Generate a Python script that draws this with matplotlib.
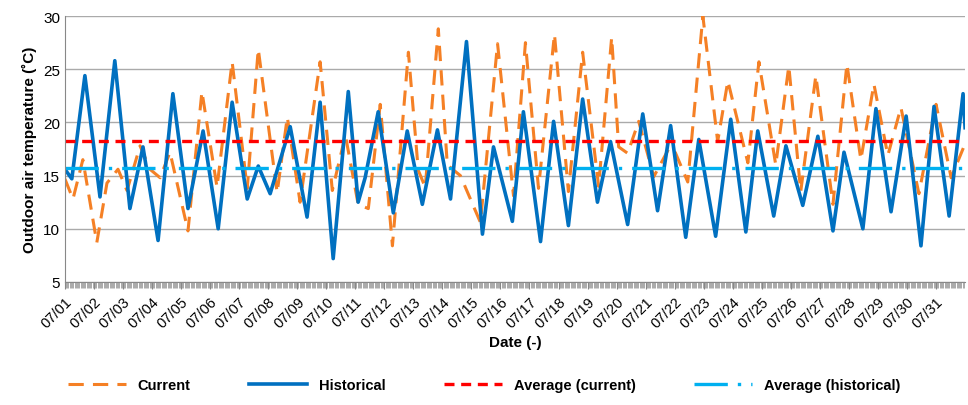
import matplotlib
matplotlib.use('Agg')
import matplotlib.pyplot as plt
import numpy as np

# time in days from 07/01 00:00, temperature in degC
hist_t = [0, 0.24, 0.69, 1.21, 1.72, 2.24, 2.69, 3.21, 3.72, 4.24, 4.76, 5.28, 5.76, 6.28, 6.66, 7.07,
          7.76, 8.34, 8.79, 9.24, 9.76, 10.10, 10.34, 10.79, 11.31, 11.79, 12.31, 12.83, 13.28, 13.83,
          14.38, 14.76, 15.41, 15.79, 16.38, 16.83, 17.34, 17.83, 18.34, 18.79, 19.38, 19.90, 20.41,
          20.86, 21.38, 21.83, 22.41, 22.93, 23.45, 23.86, 24.41, 24.83, 25.41, 25.93, 26.45, 26.83,
          27.48, 27.93, 28.45, 28.97, 29.48, 29.93, 30.45, 30.93, 31.0]
hist_v = [15.6, 14.7, 24.4, 13.0, 25.8, 11.9, 17.7, 8.9, 22.7, 11.9, 19.2, 10.0, 21.9, 12.8, 15.9, 13.3,
          19.6, 11.1, 21.9, 7.2, 22.9, 12.5, 14.8, 21.0, 11.5, 19.2, 12.3, 19.3, 12.8, 27.6,
          9.5, 17.7, 10.7, 21.0, 8.8, 20.1, 10.3, 22.2, 12.5, 18.2, 10.4, 20.8, 11.7,
          19.7, 9.2, 18.4, 9.3, 20.3, 9.7, 19.2, 11.2, 17.8, 12.2, 18.7, 9.8, 17.2,
          10.0, 21.3, 11.6, 20.6, 8.4, 21.5, 11.2, 22.7, 19.5]

cur_t = [0, 0.28, 0.62, 1.10, 1.45, 1.83, 2.14, 2.59, 2.93, 3.28, 3.62, 4.24, 4.72, 5.24, 5.76, 6.28,
         6.66, 7.31, 7.66, 8.10, 8.79, 9.21, 9.66, 10.10, 10.45, 10.86, 11.28, 11.83, 12.17, 12.41,
         12.86, 13.17, 13.62, 14.31, 14.90, 15.45, 15.86, 16.31, 16.86, 17.34, 17.83, 18.38, 18.83,
         19.07, 19.38, 19.76, 20.28, 20.79, 20.97, 21.45, 21.97, 22.48, 22.83, 23.52, 23.90, 24.48,
         24.93, 25.34, 25.86, 26.45, 26.93, 27.41, 27.86, 28.34, 28.79, 29.41, 30.00, 30.52, 30.97]
cur_v = [14.7, 12.8, 16.5, 8.7, 14.3, 15.6, 13.6, 17.8, 15.6, 14.8, 17.2, 9.8, 22.9, 13.9, 25.7, 13.8,
         26.9, 13.4, 20.5, 12.5, 25.7, 13.6, 18.8, 12.3, 11.9, 21.7, 8.4, 26.6, 15.5, 13.9,
         28.8, 16.0, 15.0, 10.6, 27.4, 13.1, 27.5, 13.8, 28.3, 13.5, 26.6, 14.0, 28.0,
         17.7, 17.1, 20.1, 14.9, 17.5, 17.5, 14.4, 30.0, 18.2, 23.9, 16.2, 25.7, 16.0,
         25.3, 13.5, 24.4, 12.3, 25.5, 16.5, 23.6, 16.9, 21.4, 13.3, 21.7, 14.8, 17.8]

avg_current = 18.3
avg_historical = 15.7
day_labels = ['07/%02d' % d for d in range(1, 32)]

plt.rcParams['font.family'] = ['Liberation Sans', 'DejaVu Sans']
fig = plt.figure(figsize=(9.68, 4.06), dpi=100)
ax = fig.add_axes([0.067, 0.303, 0.930, 0.655])

ax.plot(cur_t, cur_v, color='#F58025', lw=2.2, dashes=(5, 3), label='Current')
ax.plot(hist_t, hist_v, color='#0070C0', lw=2.6, label='Historical')
ax.axhline(avg_current, color='#FF0000', lw=2.4, dashes=(3, 2), label='Average (current)')
ax.axhline(avg_historical, color='#00B0F0', lw=2.4, dashes=(10, 3, 1, 3), label='Average (historical)')

ax.set_xlim(0, 31)
ax.set_ylim(5, 30)
ax.set_yticks(range(5, 31, 5))
ax.set_xticks(range(31))
ax.set_xticklabels(day_labels, rotation=45, ha='right', rotation_mode='anchor', fontsize=10.5)
ax.set_xticks(np.arange(0, 31, 1 / 24), minor=True)
ax.tick_params(axis='x', which='minor', length=4, color='#888888', width=0.5)
ax.tick_params(axis='x', which='major', length=5, color='#888888')
ax.tick_params(axis='y', labelsize=11, length=0)
ax.grid(axis='y', color='#AAAAAA', lw=1)
ax.set_axisbelow(True)
for s in ['top', 'right']:
    ax.spines[s].set_visible(False)
ax.spines['left'].set_color('#888888')
ax.spines['bottom'].set_color('#888888')

ax.set_xlabel('Date (-)', fontweight='bold', fontsize=11)
ax.set_ylabel('Outdoor air temperature (\u02daC)', fontweight='bold', fontsize=11)

fig.legend(loc='lower center', ncol=4, frameon=False, bbox_to_anchor=(0.5, 0.0),
           prop={'weight': 'bold', 'size': 10.5}, handlelength=4, columnspacing=4)

fig.savefig('out.png')
